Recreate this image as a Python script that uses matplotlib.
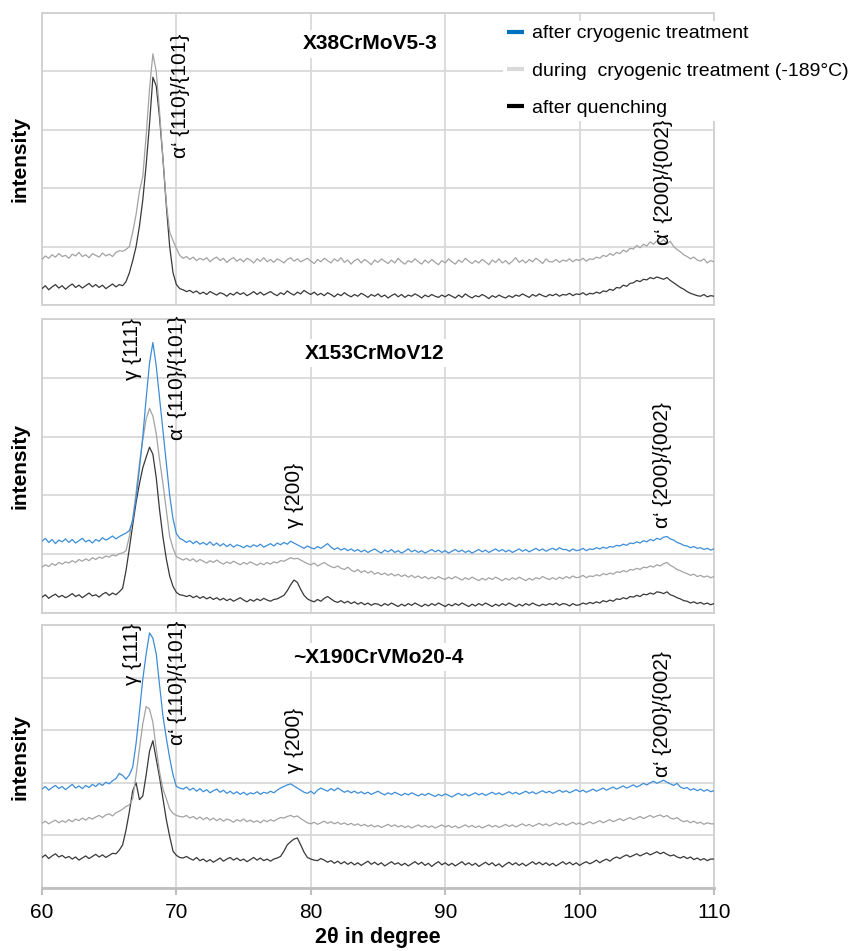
import numpy as np
import matplotlib
matplotlib.use('Agg')
import matplotlib.pyplot as plt
from matplotlib.lines import Line2D

plt.rcParams['font.family'] = ['Liberation Sans', 'DejaVu Sans']

# measurement grid (2theta in degree)
two_theta = np.round(np.arange(60, 110.001, 0.25), 2)

# ---------------- X38CrMoV5-3 ----------------
p1_during = [
 0.78,0.84,0.80,0.86, 0.82,0.88,0.83,0.85, 0.80,0.87,0.84,0.90, 0.83,0.86,0.81,0.88, 0.85,0.82,0.89,0.84,
 0.87,0.83,0.90,0.93, 0.92,0.95,1.00,1.25, 1.55,1.95,2.20,2.90, 3.70,4.30,4.00,3.30, 2.50,1.75,1.25,1.10,
 0.97,0.85,0.80,0.83, 0.78,0.82,0.76,0.80, 0.77,0.81,0.74,0.79, 0.82,0.76,0.80,0.73, 0.78,0.81,0.75,0.79,
 0.74,0.80,0.77,0.72, 0.79,0.75,0.81,0.74, 0.78,0.73,0.79,0.76, 0.72,0.78,0.81,0.75, 0.79,0.74,0.77,0.80,
 0.75,0.71,0.78,0.74, 0.80,0.76,0.72,0.79, 0.75,0.81,0.73,0.77, 0.70,0.76,0.79,0.72, 0.78,0.74,0.69,0.77,
 0.73,0.79,0.75,0.71, 0.77,0.72,0.80,0.74, 0.70,0.76,0.73,0.79, 0.74,0.70,0.77,0.72, 0.78,0.73,0.69,0.76,
 0.72,0.79,0.74,0.70, 0.77,0.73,0.80,0.75, 0.71,0.76,0.72,0.78, 0.74,0.69,0.77,0.73, 0.79,0.72,0.76,0.70,
 0.75,0.81,0.73,0.77, 0.72,0.78,0.74,0.80, 0.76,0.71,0.79,0.74, 0.74,0.78,0.73,0.77, 0.75,0.79,0.74,0.78,
 0.76,0.80,0.75,0.79, 0.78,0.82,0.80,0.85, 0.83,0.88,0.85,0.90, 0.88,0.94,0.91,0.97, 0.96,1.02,0.98,1.04,
 1.01,1.08,1.04,1.10, 1.07,1.12,1.05,1.09, 1.00,0.95,0.91,0.86, 0.83,0.79,0.82,0.77, 0.75,0.79,0.72,0.76,
 0.74]
p1_quench = [
 0.28,0.33,0.26,0.31, 0.35,0.29,0.33,0.27, 0.32,0.36,0.30,0.34, 0.29,0.33,0.37,0.31, 0.35,0.30,0.34,0.28,
 0.32,0.36,0.31,0.35, 0.33,0.40,0.55,0.76, 1.00,1.35,1.80,2.40, 3.10,3.90,3.75,3.20, 2.50,1.70,1.00,0.55,
 0.35,0.28,0.26,0.23, 0.25,0.21,0.24,0.19, 0.22,0.18,0.23,0.20, 0.17,0.21,0.19,0.15, 0.20,0.17,0.22,0.18,
 0.21,0.16,0.19,0.23, 0.18,0.22,0.17,0.20, 0.23,0.19,0.16,0.21, 0.18,0.24,0.20,0.17, 0.22,0.19,0.25,0.21,
 0.18,0.22,0.17,0.20, 0.16,0.21,0.18,0.14, 0.19,0.16,0.21,0.17, 0.14,0.18,0.15,0.20, 0.17,0.13,0.18,0.15,
 0.19,0.14,0.17,0.12, 0.16,0.19,0.14,0.18, 0.13,0.17,0.15,0.19, 0.16,0.12,0.17,0.14, 0.18,0.15,0.13,0.17,
 0.14,0.18,0.15,0.12, 0.17,0.13,0.19,0.15, 0.12,0.16,0.14,0.18, 0.15,0.11,0.16,0.13, 0.17,0.14,0.12,0.16,
 0.13,0.17,0.15,0.19, 0.16,0.13,0.18,0.15, 0.19,0.16,0.14,0.18, 0.16,0.19,0.15,0.18, 0.17,0.20,0.16,0.19,
 0.18,0.21,0.17,0.20, 0.19,0.22,0.20,0.24, 0.23,0.27,0.25,0.30, 0.29,0.34,0.32,0.37, 0.38,0.42,0.40,0.44,
 0.43,0.47,0.45,0.48, 0.46,0.44,0.47,0.42, 0.38,0.34,0.30,0.27, 0.23,0.20,0.18,0.16, 0.15,0.18,0.14,0.16,
 0.15]

# ---------------- X153CrMoV12 ----------------
p2_after = [
 1.22,1.27,1.20,1.25, 1.18,1.24,1.21,1.26, 1.20,1.25,1.19,1.23, 1.27,1.21,1.24,1.19, 1.25,1.22,1.28,1.24,
 1.27,1.31,1.26,1.30, 1.33,1.36,1.40,1.58, 1.95,2.45,3.00,3.65, 4.25,4.60,4.20,3.65, 3.10,2.55,2.00,1.60,
 1.35,1.27,1.24,1.20, 1.23,1.18,1.22,1.17, 1.20,1.16,1.21,1.15, 1.19,1.14,1.18,1.13, 1.17,1.12,1.16,1.14,
 1.11,1.15,1.12,1.16, 1.13,1.17,1.12,1.15, 1.18,1.14,1.19,1.16, 1.20,1.17,1.22,1.19, 1.16,1.13,1.10,1.14,
 1.11,1.09,1.13,1.10, 1.14,1.18,1.12,1.08, 1.11,1.07,1.10,1.06, 1.09,1.05,1.08,1.04, 1.07,1.03,1.06,1.09,
 1.05,1.02,1.07,1.04, 1.08,1.03,1.06,1.02, 1.05,1.09,1.04,1.07, 1.03,1.06,1.02,1.05, 1.08,1.04,1.07,1.03,
 1.06,1.02,1.05,1.08, 1.04,1.07,1.03,1.06, 1.02,1.05,1.08,1.04, 1.07,1.03,1.06,1.09, 1.05,1.08,1.04,1.07,
 1.03,1.06,1.09,1.05, 1.08,1.04,1.07,1.10, 1.06,1.09,1.05,1.08, 1.10,1.07,1.11,1.08, 1.08,1.05,1.09,1.06,
 1.07,1.10,1.06,1.09, 1.08,1.11,1.09,1.12, 1.10,1.13,1.12,1.15, 1.14,1.17,1.15,1.19, 1.18,1.21,1.19,1.23,
 1.21,1.25,1.23,1.27, 1.25,1.29,1.30,1.26, 1.24,1.20,1.18,1.15, 1.14,1.11,1.13,1.10, 1.11,1.08,1.10,1.07,
 1.09]
p2_during = [
 0.78,0.82,0.79,0.84, 0.81,0.86,0.83,0.87, 0.85,0.89,0.86,0.91, 0.88,0.92,0.89,0.94, 0.91,0.95,0.93,0.97,
 0.95,0.99,0.97,1.01, 1.02,1.06,1.30,1.60, 2.05,2.55,2.95,3.30, 3.48,3.35,3.05,2.60, 2.20,1.75,1.30,1.10,
 0.96,0.93,0.90,0.93, 0.89,0.92,0.87,0.91, 0.88,0.85,0.89,0.86, 0.90,0.86,0.83,0.87, 0.84,0.88,0.85,0.82,
 0.86,0.83,0.87,0.84, 0.81,0.85,0.82,0.86, 0.83,0.87,0.85,0.89, 0.88,0.91,0.94,0.92, 0.93,0.90,0.87,0.84,
 0.82,0.85,0.80,0.83, 0.86,0.82,0.79,0.77, 0.80,0.76,0.74,0.78, 0.73,0.70,0.74,0.69, 0.72,0.68,0.71,0.66,
 0.69,0.65,0.68,0.64, 0.67,0.63,0.66,0.62, 0.65,0.61,0.64,0.60, 0.63,0.59,0.62,0.58, 0.61,0.58,0.62,0.59,
 0.57,0.61,0.58,0.62, 0.59,0.56,0.60,0.57, 0.61,0.58,0.55,0.59, 0.56,0.60,0.57,0.61, 0.58,0.55,0.59,0.56,
 0.60,0.57,0.61,0.58, 0.55,0.59,0.56,0.60, 0.58,0.62,0.59,0.57, 0.60,0.57,0.61,0.58, 0.62,0.59,0.63,0.60,
 0.61,0.64,0.60,0.63, 0.62,0.65,0.63,0.67, 0.65,0.68,0.66,0.70, 0.69,0.72,0.70,0.74, 0.73,0.76,0.74,0.78,
 0.77,0.80,0.78,0.82, 0.80,0.84,0.86,0.81, 0.78,0.74,0.72,0.69, 0.67,0.64,0.66,0.62, 0.64,0.61,0.63,0.60,
 0.62]
p2_quench = [
 0.27,0.31,0.25,0.29, 0.32,0.27,0.30,0.26, 0.29,0.33,0.28,0.31, 0.26,0.30,0.34,0.29, 0.31,0.27,0.32,0.35,
 0.30,0.34,0.31,0.36, 0.42,0.72,1.10,1.50, 1.88,2.20,2.47,2.65, 2.82,2.70,2.30,1.75, 1.29,0.92,0.63,0.45,
 0.35,0.31,0.30,0.28, 0.30,0.26,0.29,0.25, 0.28,0.24,0.27,0.23, 0.26,0.22,0.25,0.21, 0.24,0.20,0.23,0.26,
 0.22,0.19,0.23,0.20, 0.24,0.21,0.25,0.22, 0.20,0.23,0.24,0.27, 0.30,0.38,0.48,0.56, 0.52,0.40,0.30,0.24,
 0.21,0.19,0.23,0.20, 0.25,0.28,0.24,0.20, 0.18,0.21,0.17,0.20, 0.16,0.19,0.15,0.18, 0.14,0.17,0.13,0.16,
 0.15,0.12,0.16,0.13, 0.17,0.14,0.11,0.15, 0.12,0.16,0.13,0.17, 0.14,0.11,0.15,0.12, 0.16,0.13,0.17,0.14,
 0.11,0.15,0.12,0.16, 0.13,0.17,0.14,0.11, 0.15,0.12,0.16,0.13, 0.17,0.14,0.11,0.15, 0.12,0.16,0.13,0.17,
 0.14,0.11,0.15,0.12, 0.16,0.13,0.17,0.14, 0.12,0.15,0.13,0.16, 0.14,0.17,0.13,0.16, 0.15,0.12,0.16,0.13,
 0.14,0.17,0.15,0.18, 0.16,0.19,0.17,0.21, 0.19,0.22,0.20,0.24, 0.23,0.26,0.24,0.28, 0.27,0.30,0.28,0.32,
 0.31,0.34,0.32,0.36, 0.35,0.33,0.36,0.31, 0.29,0.26,0.24,0.21, 0.20,0.17,0.19,0.16, 0.18,0.15,0.17,0.14,
 0.16]

# ---------------- ~X190CrVMo20-4 ----------------
p3_after = [
 1.88,1.93,1.86,1.91, 1.95,1.89,1.93,1.87, 1.92,1.97,1.90,1.94, 1.89,1.95,1.91,1.97, 1.93,1.99,1.95,2.01,
 1.98,2.04,2.08,2.18, 2.14,2.07,2.15,2.30, 2.75,3.35,3.97,4.45, 4.85,4.75,4.45,3.85, 3.27,2.85,2.47,2.15,
 1.93,1.90,1.88,1.92, 1.86,1.90,1.84,1.89, 1.83,1.87,1.81,1.85, 1.88,1.82,1.86,1.80, 1.84,1.79,1.83,1.78,
 1.82,1.77,1.81,1.79, 1.83,1.78,1.82,1.80, 1.84,1.81,1.86,1.90, 1.93,1.96,1.98,1.94, 1.90,1.86,1.82,1.80,
 1.84,1.79,1.86,1.90, 1.87,1.84,1.89,1.85, 1.90,1.86,1.82,1.85, 1.81,1.84,1.80,1.83, 1.79,1.82,1.78,1.81,
 1.84,1.80,1.77,1.81, 1.78,1.82,1.79,1.76, 1.80,1.77,1.81,1.78, 1.75,1.79,1.76,1.80, 1.77,1.74,1.78,1.75,
 1.79,1.76,1.73,1.77, 1.80,1.76,1.79,1.75, 1.78,1.81,1.77,1.80, 1.76,1.79,1.82,1.78, 1.81,1.77,1.80,1.83,
 1.79,1.82,1.78,1.81, 1.84,1.80,1.83,1.79, 1.82,1.85,1.81,1.84, 1.80,1.83,1.86,1.82, 1.85,1.81,1.84,1.87,
 1.83,1.86,1.82,1.85, 1.88,1.84,1.87,1.90, 1.86,1.89,1.92,1.88, 1.91,1.94,1.90,1.93, 1.96,1.92,1.95,1.99,
 1.96,2.00,2.03,1.99, 2.02,2.05,2.01,1.98, 1.95,1.99,1.92,1.89, 1.91,1.86,1.89,1.85, 1.88,1.84,1.87,1.83,
 1.85]
p3_during = [
 1.23,1.27,1.22,1.26, 1.29,1.24,1.28,1.25, 1.30,1.26,1.31,1.28, 1.33,1.29,1.34,1.31, 1.35,1.38,1.34,1.39,
 1.41,1.37,1.43,1.46, 1.50,1.55,1.58,1.70, 2.15,2.65,3.12,3.45, 3.40,3.15,2.65,2.20, 1.88,1.70,1.50,1.42,
 1.38,1.36,1.35,1.38, 1.33,1.36,1.31,1.35, 1.30,1.34,1.29,1.33, 1.28,1.32,1.27,1.31, 1.29,1.25,1.30,1.27,
 1.31,1.26,1.29,1.25, 1.28,1.24,1.29,1.26, 1.30,1.27,1.31,1.34, 1.33,1.36,1.38,1.35, 1.37,1.32,1.28,1.24,
 1.22,1.25,1.21,1.24, 1.27,1.23,1.26,1.22, 1.25,1.21,1.24,1.20, 1.23,1.19,1.22,1.18, 1.21,1.17,1.20,1.16,
 1.19,1.15,1.18,1.21, 1.17,1.20,1.16,1.19, 1.15,1.18,1.14,1.17, 1.20,1.16,1.19,1.15, 1.18,1.14,1.17,1.20,
 1.16,1.19,1.15,1.18, 1.14,1.17,1.20,1.16, 1.19,1.15,1.18,1.14, 1.17,1.20,1.16,1.19, 1.15,1.18,1.21,1.17,
 1.20,1.16,1.19,1.22, 1.18,1.21,1.17,1.20, 1.23,1.19,1.22,1.18, 1.21,1.24,1.20,1.23, 1.19,1.22,1.25,1.21,
 1.24,1.20,1.23,1.26, 1.22,1.25,1.28,1.24, 1.27,1.30,1.26,1.29, 1.32,1.28,1.31,1.34, 1.30,1.33,1.36,1.32,
 1.35,1.38,1.34,1.37, 1.39,1.35,1.38,1.33, 1.31,1.34,1.29,1.26, 1.28,1.24,1.27,1.23, 1.25,1.21,1.24,1.22,
 1.22]
p3_quench = [
 0.58,0.63,0.56,0.61, 0.65,0.59,0.62,0.57, 0.60,0.55,0.59,0.53, 0.57,0.61,0.56,0.60, 0.64,0.59,0.63,0.58,
 0.62,0.66,0.65,0.72, 0.82,1.10,1.45,1.85, 2.00,1.68,1.75,2.15, 2.60,2.80,2.45,2.10, 1.70,1.30,0.98,0.70,
 0.62,0.58,0.57,0.60, 0.56,0.53,0.58,0.52, 0.55,0.50,0.54,0.49, 0.53,0.57,0.51,0.55, 0.58,0.53,0.57,0.52,
 0.55,0.50,0.54,0.58, 0.53,0.57,0.52,0.55, 0.51,0.55,0.57,0.60, 0.70,0.82,0.88,0.93, 0.95,0.82,0.68,0.58,
 0.55,0.53,0.52,0.56, 0.53,0.49,0.52,0.47, 0.51,0.46,0.50,0.45, 0.49,0.44,0.48,0.43, 0.47,0.51,0.45,0.49,
 0.44,0.48,0.42,0.46, 0.50,0.45,0.48,0.43, 0.47,0.42,0.46,0.50, 0.45,0.49,0.43,0.47, 0.41,0.46,0.50,0.44,
 0.48,0.43,0.47,0.42, 0.46,0.50,0.44,0.48, 0.43,0.47,0.41,0.45, 0.49,0.44,0.48,0.42, 0.46,0.40,0.45,0.49,
 0.44,0.48,0.43,0.47, 0.42,0.46,0.50,0.45, 0.49,0.44,0.48,0.43, 0.47,0.42,0.46,0.50, 0.45,0.49,0.44,0.48,
 0.43,0.47,0.50,0.46, 0.49,0.53,0.48,0.52, 0.55,0.51,0.56,0.59, 0.56,0.60,0.63,0.59, 0.62,0.65,0.61,0.64,
 0.67,0.63,0.66,0.69, 0.65,0.68,0.64,0.61, 0.63,0.59,0.57,0.60, 0.56,0.59,0.54,0.57, 0.53,0.56,0.52,0.55,
 0.55]

panel_titles = ['X38CrMoV5-3', 'X153CrMoV12', '~X190CrVMo20-4']
series_labels = ['after cryogenic treatment', 'during  cryogenic treatment (-189°C)', 'after quenching']
x_ticks = [60, 70, 80, 90, 100, 110]

# peak annotations per panel: (label, 2theta, intensity at text start)
annot = [
    [("α‘ {110}/{101}", 70.3, 2.52), ("α‘ {200}/{002}", 106.25, 1.03)],
    [("γ {111}", 66.7, 3.96), ("α‘ {110}/{101}", 70.1, 2.94),
     ("γ {200}", 78.82, 1.45), ("α‘ {200}/{002}", 106.2, 1.45)],
    [("γ {111}", 66.75, 3.86), ("α‘ {110}/{101}", 70.1, 2.72),
     ("γ {200}", 78.82, 2.19), ("α‘ {200}/{002}", 106.2, 2.11)],
]

panel_data = [
    {'after': None, 'during': p1_during, 'quench': p1_quench},
    {'after': p2_after, 'during': p2_during, 'quench': p2_quench},
    {'after': p3_after, 'during': p3_during, 'quench': p3_quench},
]

# layout (pixels)
W, H = 848, 951
LEFT, RIGHT = 42, 714
boxes = [(13, 305), (319, 613), (625, 888)]
title_pos = [(0.488, 0.894), (0.495, 0.884), (0.50, 0.878)]

C_BLUE, C_GRAY, C_BLACK = '#3c8dd8', '#a3a3a3', '#383838'
GRID = '#d9d9d9'

fig = plt.figure(figsize=(W / 100, H / 100), dpi=100)

for k, (top, bot) in enumerate(boxes):
    ax = fig.add_axes([LEFT / W, 1 - bot / H, (RIGHT - LEFT) / W, (bot - top) / H])
    ax.set_xlim(60, 110)
    ax.set_ylim(0, 5)
    ax.set_xticks(x_ticks)
    ax.set_yticks(range(6))
    ax.grid(True, color=GRID, lw=1.3)
    ax.set_axisbelow(True)
    for sp in ax.spines.values():
        sp.set_color('#d0d0d0')
        sp.set_linewidth(1.3)
    d = panel_data[k]
    ax.plot(two_theta, d['quench'], color=C_BLACK, lw=0.9, zorder=3)
    ax.plot(two_theta, d['during'], color=C_GRAY, lw=0.9, zorder=3)
    if d['after'] is not None:
        ax.plot(two_theta, d['after'], color=C_BLUE, lw=0.9, zorder=4)
    ax.text(title_pos[k][0], title_pos[k][1], panel_titles[k], transform=ax.transAxes,
            ha='center', va='center', fontsize=15, fontweight='bold', zorder=5,
            bbox=dict(facecolor='white', edgecolor='none', pad=3))
    for (s, xx, yy) in annot[k]:
        ax.text(xx, yy, s, rotation=90, ha='center', va='bottom', fontsize=15, zorder=6)
    ax.text(-(LEFT - 20) / (RIGHT - LEFT), 0.5, 'intensity', transform=ax.transAxes,
            rotation=90, ha='center', va='center', fontsize=15, fontweight='bold')
    ax.tick_params(axis='y', left=False, labelleft=False)
    if k < 2:
        ax.tick_params(axis='x', bottom=False, labelbottom=False)
    else:
        ax.spines['bottom'].set_color('#bfbfbf')
        ax.spines['bottom'].set_linewidth(2)
        ax.tick_params(axis='x', direction='out', length=5, width=1.5, color='#bfbfbf',
                       labelsize=15, pad=6)

fig.text((LEFT + RIGHT) / 2 / W, 1 - 938 / H, '2θ in degree', ha='center', va='center',
         fontsize=15.5, fontweight='bold')

handles = [Line2D([], [], color='#0070c0', lw=3, solid_capstyle='butt'),
           Line2D([], [], color='#d9d9d9', lw=3, solid_capstyle='butt'),
           Line2D([], [], color='#000000', lw=3, solid_capstyle='butt')]
leg = fig.legend(handles, series_labels, loc='upper left',
                 bbox_to_anchor=(503 / W, 1 - 21 / H), bbox_transform=fig.transFigure,
                 frameon=True, facecolor='white', edgecolor='none', framealpha=1,
                 fancybox=False, fontsize=14, handlelength=0.9, handletextpad=0.4,
                 labelspacing=1.0, borderpad=0.2, borderaxespad=0)

fig.savefig('out.png', dpi=100)
